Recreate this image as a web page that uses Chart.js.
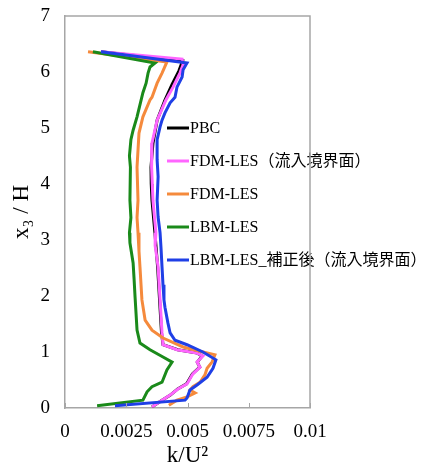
<!DOCTYPE html>
<html>
<head>
<meta charset="utf-8">
<script src="https://cdn.jsdelivr.net/npm/chart.js@4"></script>
<style>
  html, body { margin: 0; padding: 0; background: #fff; }
  #chart { display: block; }
</style>
</head>
<body>
<canvas id="chart" width="428" height="475"></canvas>
<script>
// series names (legend order)
const seriesNames = ['PBC', 'FDM-LES（流入境界面）', 'FDM-LES', 'LBM-LES', 'LBM-LES_補正後（流入境界面）'];

// x ticks / y ticks
const xTicks = [0, 0.0025, 0.005, 0.0075, 0.01];
const xTickLabels = ['0', '0.0025', '0.005', '0.0075', '0.01'];
const yTicks = [0, 1, 2, 3, 4, 5, 6, 7];

// PBC
const pbcK = [0.00147, 0.0048, 0.00465, 0.00437, 0.00408, 0.00376, 0.00359, 0.00351, 0.00352, 0.00355, 0.00367, 0.00378, 0.00386, 0.00394, 0.004, 0.0046, 0.0054, 0.0056, 0.0054, 0.0055, 0.0052, 0.00496, 0.0046, 0.0043, 0.00396, 0.00355];
const pbcX3 = [6.36, 6.2, 6.02, 5.78, 5.5, 5.14, 4.73, 4.3, 4.0, 3.71, 3.13, 2.52, 1.93, 1.34, 1.13, 1.04, 0.98, 0.93, 0.82, 0.73, 0.61, 0.43, 0.34, 0.23, 0.14, 0.02];

// FDM-LES（流入境界面）
const fdmInK = [0.00147, 0.00478, 0.00482, 0.00469, 0.00441, 0.00412, 0.00376, 0.00355, 0.00352, 0.00355, 0.00359, 0.00371, 0.00368, 0.0038, 0.00388, 0.00396, 0.004, 0.00457, 0.00539, 0.00563, 0.00539, 0.00551, 0.00522, 0.00498, 0.00461, 0.00429, 0.00396, 0.00355];
const fdmInX3 = [6.36, 6.23, 6.13, 5.98, 5.73, 5.5, 5.14, 4.73, 4.5, 4.3, 3.71, 3.13, 2.9, 2.52, 1.93, 1.34, 1.13, 1.04, 0.98, 0.93, 0.82, 0.73, 0.61, 0.43, 0.34, 0.23, 0.14, 0.02];

// FDM-LES
const fdmK = [0.00094, 0.00416, 0.00396, 0.00376, 0.00355, 0.00347, 0.00318, 0.00302, 0.00294, 0.00298, 0.00294, 0.00298, 0.00302, 0.00306, 0.00314, 0.00327, 0.00355, 0.004, 0.00482, 0.00563, 0.00612, 0.006, 0.0058, 0.00571, 0.00551, 0.00522, 0.0051, 0.00531, 0.00498, 0.00457, 0.00424];
const fdmX3 = [6.36, 6.18, 5.98, 5.8, 5.55, 5.5, 5.2, 4.91, 4.3, 3.71, 3.4, 3.13, 2.8, 2.52, 1.93, 1.57, 1.39, 1.25, 1.09, 1.0, 0.95, 0.82, 0.71, 0.59, 0.46, 0.38, 0.32, 0.27, 0.2, 0.14, 0.05];

// LBM-LES
const lbmK = [0.00114, 0.00367, 0.00347, 0.00339, 0.00331, 0.00318, 0.00294, 0.00278, 0.00269, 0.00263, 0.00267, 0.00265, 0.00269, 0.00263, 0.00265, 0.00278, 0.00282, 0.00286, 0.00294, 0.00306, 0.00347, 0.004, 0.00437, 0.00416, 0.00396, 0.00355, 0.00335, 0.00318, 0.00131];
const lbmX3 = [6.36, 6.16, 6.09, 5.98, 5.8, 5.63, 5.2, 4.96, 4.79, 4.5, 4.3, 3.71, 3.4, 3.13, 2.95, 2.59, 2.3, 1.98, 1.39, 1.16, 1.04, 0.91, 0.82, 0.68, 0.46, 0.38, 0.29, 0.14, 0.04];

// LBM-LES_補正後（流入境界面）
const lbmCorK = [0.00147, 0.00498, 0.00482, 0.00478, 0.00457, 0.00449, 0.00429, 0.00408, 0.00396, 0.00388, 0.00376, 0.00376, 0.0038, 0.00376, 0.0038, 0.00388, 0.00392, 0.00396, 0.004, 0.00404, 0.00408, 0.0042, 0.00429, 0.00449, 0.00498, 0.00563, 0.00616, 0.00604, 0.0058, 0.00539, 0.0051, 0.00498, 0.0049, 0.00204];
const lbmCorX3 = [6.36, 6.16, 6.04, 5.91, 5.73, 5.55, 5.45, 5.27, 5.14, 5.02, 4.79, 4.43, 4.13, 3.71, 3.41, 3.13, 2.85, 2.52, 2.2, 1.93, 1.8, 1.52, 1.34, 1.21, 1.13, 1.0, 0.86, 0.71, 0.55, 0.41, 0.32, 0.18, 0.14, 0.04];

const seriesK = [pbcK, fdmInK, fdmK, lbmK, lbmCorK];
const seriesX3 = [pbcX3, fdmInX3, fdmX3, lbmX3, lbmCorX3];
const seriesColors = ['#000000', '#ff66ff', '#f58a3c', '#1a8a1a', '#1f3fe6'];

const serif = '"Liberation Serif", "Times New Roman", "Noto Sans CJK JP", serif';
const axisGray = '#a6a6a6';

const datasets = seriesNames.map((name, i) => ({
    label: name,
    data: seriesK[i].map((k, j) => ({ x: k, y: seriesX3[i][j] })),
    showLine: true,
    borderColor: seriesColors[i],
    backgroundColor: seriesColors[i],
    borderWidth: 3,
    pointRadius: 0,
    tension: 0,
    order: seriesNames.length - i   // last series drawn on top
}));

// frame, inner x ticks and the legend inside the plot
const extras = {
    id: 'extras',
    afterDatasetsDraw(chart) {
        const ctx = chart.ctx;
        const a = chart.chartArea;
        const xs = chart.scales.x;

        ctx.save();
        // legend
        ctx.font = '16px ' + serif;
        ctx.textBaseline = 'middle';
        ctx.textAlign = 'left';
        seriesNames.forEach((name, i) => {
            const y = a.top + 112 + i * 33;
            const x0 = a.left + 102;
            ctx.strokeStyle = seriesColors[i];
            ctx.lineWidth = 3;
            ctx.beginPath();
            ctx.moveTo(x0, y);
            ctx.lineTo(x0 + 22, y);
            ctx.stroke();
            ctx.fillStyle = '#000';
            ctx.fillText(name, x0 + 23, y + 1);
        });

        // top and right frame
        ctx.strokeStyle = axisGray;
        ctx.lineWidth = 1.5;
        ctx.beginPath();
        ctx.moveTo(a.left, a.top);
        ctx.lineTo(a.right, a.top);
        ctx.lineTo(a.right, a.bottom);
        ctx.stroke();

        // inner tick marks on x axis
        ctx.lineWidth = 1;
        xTicks.forEach(v => {
            const px = Math.round(xs.getPixelForValue(v)) + 0.5;
            ctx.beginPath();
            ctx.moveTo(px, a.bottom);
            ctx.lineTo(px, a.bottom - 5);
            ctx.stroke();
        });
        ctx.restore();
    }
};

new Chart(document.getElementById('chart'), {
    type: 'scatter',
    data: { datasets },
    plugins: [extras],
    options: {
        responsive: false,
        animation: false,
        devicePixelRatio: 1,
        layout: { padding: { top: 16, right: 118, left: 0, bottom: 0 } },
        plugins: {
            legend: { display: false },
            tooltip: { enabled: false }
        },
        scales: {
            x: {
                type: 'linear',
                min: 0,
                max: 0.01,
                afterBuildTicks: s => { s.ticks = xTicks.map(v => ({ value: v })); },
                afterFit: s => { s.height = 67; s.paddingLeft = 0; s.paddingRight = 0; },
                ticks: {
                    color: '#000',
                    font: { family: serif, size: 19 },
                    padding: 13,
                    maxRotation: 0,
                    callback: v => xTickLabels[xTicks.indexOf(v)]
                },
                grid: { display: true, drawOnChartArea: false, drawTicks: false, tickLength: 0 },
                border: { color: axisGray, width: 1.5 },
                title: {
                    display: true,
                    text: 'k/U²',
                    color: '#000',
                    font: { family: serif, size: 23 },
                    padding: { top: 0, bottom: 5 }
                }
            },
            y: {
                type: 'linear',
                min: 0,
                max: 7,
                afterBuildTicks: s => { s.ticks = yTicks.map(v => ({ value: v })); },
                afterFit: s => { s.width = 65; s.paddingTop = 0; s.paddingBottom = 0; },
                ticks: {
                    color: '#000',
                    font: { family: serif, size: 19 },
                    padding: 15
                },
                grid: { display: true, drawOnChartArea: false, drawTicks: false, tickLength: 0 },
                border: { color: axisGray, width: 1.5 },
                title: {
                    display: true,
                    text: 'x₃ / H',
                    color: '#000',
                    font: { family: serif, size: 23 },
                    padding: { top: 8, bottom: 0 }
                }
            }
        }
    }
});
</script>
</body>
</html>
